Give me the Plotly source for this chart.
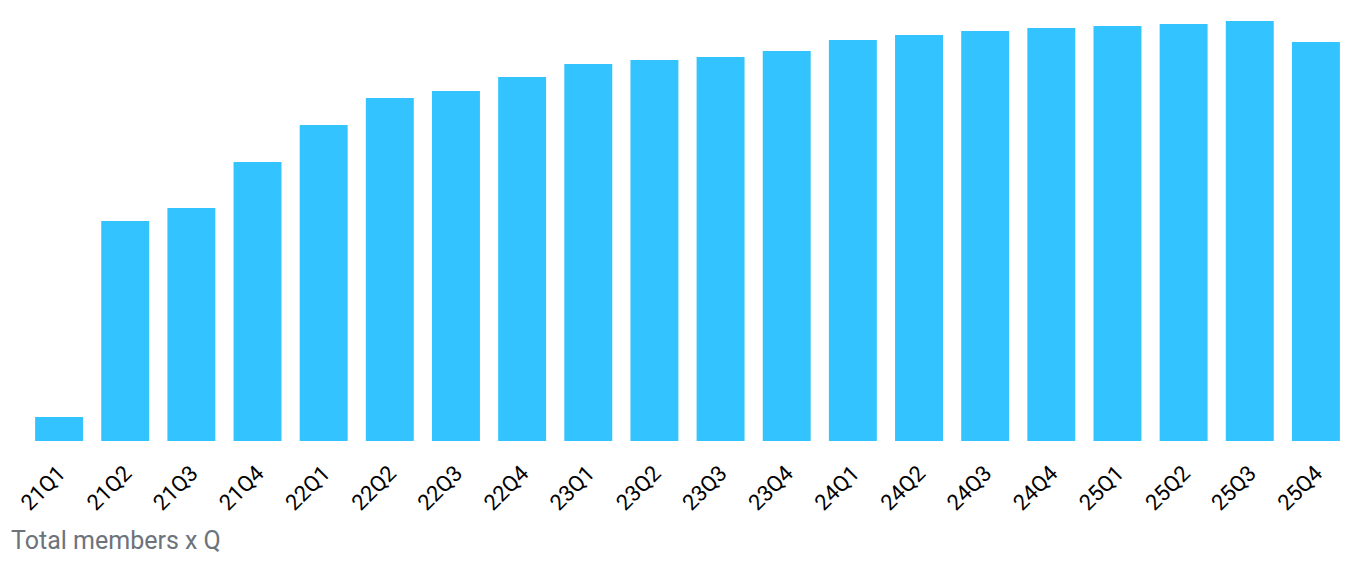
import plotly.graph_objects as go

quarters = ['21Q1', '21Q2', '21Q3', '21Q4', '22Q1', '22Q2', '22Q3', '22Q4',
            '23Q1', '23Q2', '23Q3', '23Q4', '24Q1', '24Q2', '24Q3', '24Q4',
            '25Q1', '25Q2', '25Q3', '25Q4']
members = [24, 220, 233, 279, 316, 343, 350, 364,
           377, 381, 384, 390, 401, 406, 410, 413,
           415, 417, 420, 399]

fig = go.Figure(go.Bar(
    x=quarters,
    y=members,
    marker_color='#33c4ff',
    marker_line_width=0,
))

# page body adds an 8px offset, so margins are shifted accordingly
fig.update_layout(
    width=1360,
    height=565,
    margin=dict(l=18, r=19, t=2, b=132, autoexpand=False),
    plot_bgcolor='white',
    paper_bgcolor='white',
    bargap=0.275,
    showlegend=False,
    font=dict(family='Roboto', color='black'),
    xaxis=dict(tickangle=-45, tickfont=dict(size=22, color='black'),
               ticklabelstandoff=14,
               showgrid=False, showline=False, zeroline=False, ticks='',
               automargin=False),
    yaxis=dict(range=[0, 431], visible=False, showgrid=False, zeroline=False,
               automargin=False),
)

fig.add_annotation(
    text='Total members x Q',
    xref='paper', yref='paper', x=-0.0125, y=-0.232,
    xanchor='left', yanchor='middle', showarrow=False,
    font=dict(family='Roboto', size=25, color='#6c737a'),
)

fig.write_html('out.html')
